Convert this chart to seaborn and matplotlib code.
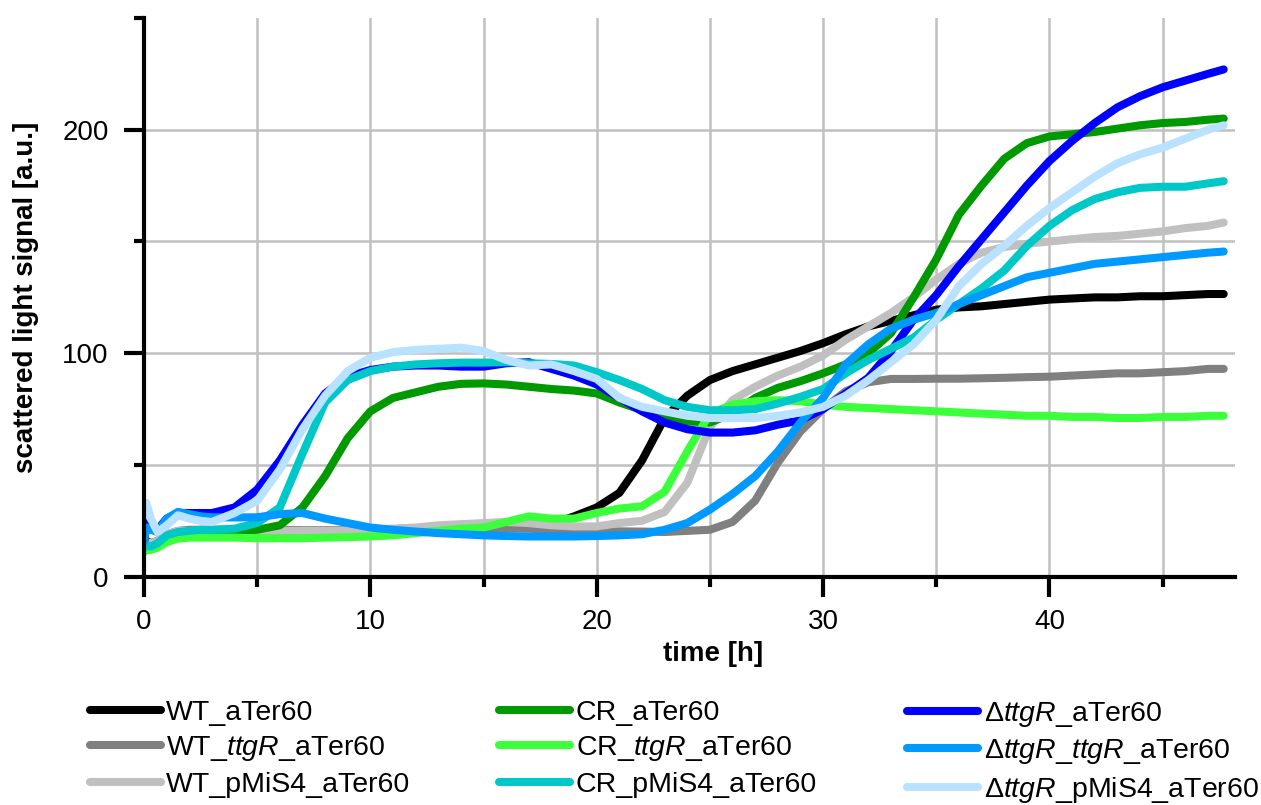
import matplotlib
matplotlib.use("Agg")
import matplotlib.pyplot as plt
from matplotlib.lines import Line2D
from matplotlib.ticker import MultipleLocator, FixedLocator
import pandas as pd
import seaborn as sns

# Sampling times of the growth measurements (h)
hours = [0, 0.1, 0.3, 0.6, 1, 1.5, 2, 2.5, 3] + list(range(4, 48)) + [47.7]

# Scattered light signal [a.u.] per strain
wt_ater = [15, 16, 15, 16, 18.5, 20, 20.5, 20.5, 20.5,
           20.5, 20.5, 20.5, 20.5, 20.5, 20.7, 21, 21.3, 21.7, 22, 22.5, 23, 23, 22.5,
           23.5, 27, 31, 37.5, 52, 71, 81, 88, 92, 95, 98, 101, 104.5, 108.5, 112, 114.5,
           117, 119.5, 120.5, 121, 122, 123, 124, 124.5, 125, 125, 125.5, 125.5, 126, 126.5,
           126.5]
wt_ttgr = [14, 15, 15, 16, 19, 20.5, 21, 21, 21,
           21, 21, 21, 20.8, 20.8, 20.8, 21, 21.2, 21.5, 21.7, 21.7, 21.7, 21.7, 21.5,
           21, 20.8, 20.5, 20.3, 20.2, 20, 20.5, 21, 24.5, 34, 51, 65, 75, 83, 87, 88.5,
           88.5, 88.6, 88.6, 88.8, 89, 89.3, 89.5, 90, 90.5, 91, 91, 91.5, 92, 93,
           93]
wt_pmis4 = [14, 15.5, 15, 16, 19, 20.5, 20.5, 20.5, 20.5,
            20.5, 20.5, 20.5, 20.5, 20.5, 20.7, 21, 21.5, 22, 23, 23.5, 24, 24.5, 24,
            23, 22.5, 22.5, 24, 25, 29, 42, 67, 79, 85, 90, 94, 99, 106, 112, 118,
            125, 133, 140, 145, 147.5, 149, 150, 151, 152, 152.5, 153.5, 154.5, 156, 157,
            158.5]
cr_ater = [13, 13.5, 13, 14, 17, 19, 20, 20, 20.5,
           20.5, 21, 23, 31, 45, 62, 74, 80, 82.5, 85, 86.3, 86.5, 86, 85,
           84, 83.3, 82, 78, 74.5, 71.5, 69.5, 69, 73, 80, 84.5, 87.5, 91, 95, 100, 109,
           125, 142, 162, 175, 187, 194, 197, 198, 199, 200.5, 202, 203, 203.5, 204.5,
           205]
cr_ttgr = [11, 12, 12, 13, 15.5, 17, 17.5, 17.5, 17.5,
           17.5, 17.2, 17.2, 17.2, 17.5, 17.7, 18, 18.5, 19.5, 20.5, 21.5, 22, 24.5, 27,
           26, 26, 28.5, 30.5, 31.5, 38, 56, 73, 77, 78.5, 79, 78.5, 77, 76, 75.5, 75,
           74.5, 74, 73.5, 73, 72.5, 72, 72, 71.5, 71.5, 71, 71, 71.5, 71.5, 72,
           72]
cr_pmis4 = [13, 14, 13.5, 15, 18.5, 20, 20.5, 21, 21,
            21.5, 24, 31, 55, 78, 88, 92, 94, 95, 95.5, 95.8, 95.8, 96, 95.5,
            95.2, 94.5, 91.5, 88, 84, 79, 76, 74.5, 74.5, 75, 77.5, 80.5, 84, 91, 97, 102,
            107, 115, 122, 129, 137, 148, 157, 164, 169, 172, 174, 174.5, 174.5, 176,
            177]
dt_ater = [14, 25, 22, 21, 26, 28.5, 28.5, 28.5, 28.5,
           31, 39, 52, 68, 82, 89.5, 92.5, 94, 94.5, 94.5, 94, 94, 95.5, 96,
           93, 90, 86, 80, 74, 69, 66, 64.5, 64.5, 65.5, 68, 70, 75, 82, 89, 101,
           115, 126, 139, 151, 163, 175, 186, 195, 203, 210, 215, 219, 222, 225,
           227]
dt_ttgr = [16, 22, 21, 20, 26, 29, 28, 27, 26.6,
           26.5, 26.6, 28, 28.5, 26, 24, 22, 21, 20.2, 19.5, 19, 18.5, 18.2, 18,
           18, 18, 18.2, 18.5, 19, 21, 24, 30, 37, 45, 56, 69, 80, 95, 104, 111,
           115, 118, 122, 126, 130, 134, 136, 138, 140, 141, 142, 143, 144, 145,
           145.5]
dt_pmis4 = [27, 33, 26, 20, 23, 27.5, 26, 25, 24.5,
            28.5, 34, 48, 66, 81, 92, 98, 100.5, 101.5, 102, 102.5, 101, 97, 94.5,
            95, 92, 88.5, 80, 76, 74, 72, 71, 71, 71, 72, 73.5, 76, 81, 88, 96,
            104, 115, 130, 140, 148, 157, 165, 172, 179, 185, 189, 192, 196, 200,
            202]

strains = {
    "WT_aTer60": (wt_ater, "#000000"),
    "WT_$\\mathit{ttgR}$_aTer60": (wt_ttgr, "#808080"),
    "WT_pMiS4_aTer60": (wt_pmis4, "#c0c0c0"),
    "CR_aTer60": (cr_ater, "#009900"),
    "CR_$\\mathit{ttgR}$_aTer60": (cr_ttgr, "#3cff3c"),
    "CR_pMiS4_aTer60": (cr_pmis4, "#00c8c8"),
    "Δ$\\mathit{ttgR}$_aTer60": (dt_ater, "#0000ff"),
    "Δ$\\mathit{ttgR}$_$\\mathit{ttgR}$_aTer60": (dt_ttgr, "#0099ff"),
    "Δ$\\mathit{ttgR}$_pMiS4_aTer60": (dt_pmis4, "#b8e2ff"),
}
names = list(strains)
draw_order = [names[i] for i in (0, 1, 2, 3, 4, 6, 5, 7, 8)]

sns.set_style("white")
plt.rcParams["font.family"] = ["Liberation Sans", "DejaVu Sans"]
plt.rcParams["mathtext.fontset"] = "custom"
plt.rcParams["mathtext.rm"] = "Liberation Sans"
plt.rcParams["mathtext.it"] = "Liberation Sans:italic"
for key in ("text.color", "axes.labelcolor", "xtick.color", "ytick.color"):
    plt.rcParams[key] = "black"

LW = 5.8

fig = plt.figure(figsize=(12.61, 8.05), dpi=100)
ax = fig.add_axes([0.1142, 0.2836, 0.8652, 0.6940])

for name in draw_order:
    vals, col = strains[name]
    df = pd.DataFrame({"time": hours, "signal": vals})
    sns.lineplot(data=df, x="time", y="signal", color=col, lw=LW, ax=ax,
                 sort=False, estimator=None, legend=False)
    ax.lines[-1].set_solid_capstyle("round")
    ax.lines[-1].set_solid_joinstyle("round")

ax.set_xlim(0, 48.2)
ax.set_ylim(0, 250)
ax.xaxis.set_major_locator(MultipleLocator(10))
ax.xaxis.set_minor_locator(MultipleLocator(5))
ax.yaxis.set_major_locator(FixedLocator([0, 100, 200]))
ax.yaxis.set_minor_locator(FixedLocator([50, 150, 250]))

grid_kw = dict(color="#c0c0c0", lw=1.8, zorder=0)
ax.grid(False)
for xv in range(5, 48, 5):
    ax.axvline(xv, **grid_kw)
for yv in (50, 100, 150, 200):
    ax.axhline(yv, **grid_kw)

for side in ("top", "right"):
    ax.spines[side].set_visible(False)
for side in ("left", "bottom"):
    ax.spines[side].set_linewidth(3)
    ax.spines[side].set_color("black")
    ax.spines[side].set_zorder(5)

ax.tick_params(axis="both", which="major", direction="out", length=14.5, width=3,
               color="black", labelsize=20, labelcolor="black")
ax.tick_params(axis="both", which="minor", direction="out", length=7.5, width=3,
               color="black")
ax.tick_params(axis="x", which="major", pad=9)
ax.tick_params(axis="y", which="major", pad=11)
ax.tick_params(left=True, bottom=True, which="both")

ax.set_xlabel("time [h]", fontsize=20, fontweight="bold")
ax.set_ylabel("scattered light signal [a.u.]", fontsize=20, fontweight="bold")
ax.xaxis.set_label_coords(0.5215, -0.115)
ax.yaxis.set_label_coords(-0.096, 0.5)

# Legend: one column per background strain
col_x = [0.0711, 0.3957, 0.7193]
for ci, x0 in enumerate(col_x):
    group = names[ci * 3:(ci + 1) * 3]
    handles = [Line2D([], [], color=strains[n][1], lw=LW, solid_capstyle="round")
               for n in group]
    fig.legend(handles, group, loc="upper left", bbox_to_anchor=(x0, 0.131),
               frameon=False, fontsize=20.5, handlelength=2.5, handletextpad=0.19,
               labelspacing=0.3, borderpad=0, borderaxespad=0)

fig.savefig("out.png", dpi=100)
